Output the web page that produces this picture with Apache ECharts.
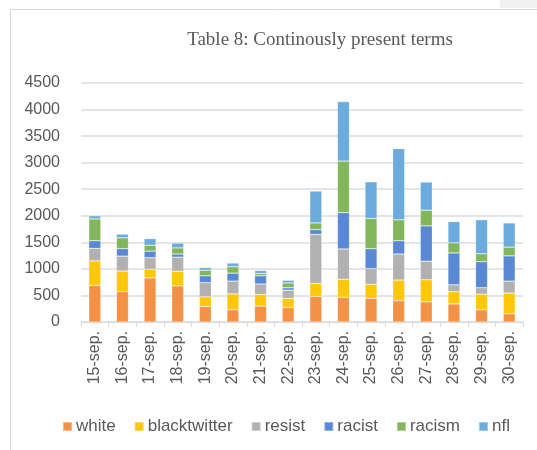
<!DOCTYPE html>
<html>
<head>
<meta charset="utf-8">
<script src="https://cdn.jsdelivr.net/npm/echarts@6/dist/echarts.min.js"></script>
<style>
  html, body { margin: 0; padding: 0; background: #ffffff; }
  #chart { width: 537px; height: 450px; }
</style>
</head>
<body>
<div id="chart"></div>
<script>
// Daily counts of terms present throughout the period
const days = ['15-sep.', '16-sep.', '17-sep.', '18-sep.', '19-sep.', '20-sep.', '21-sep.', '22-sep.',
              '23-sep.', '24-sep.', '25-sep.', '26-sep.', '27-sep.', '28-sep.', '29-sep.', '30-sep.'];
const white        = [690, 570, 830, 680, 290, 230, 300, 270, 480, 465, 445, 400, 380, 340, 230, 155];
const blacktwitter = [460, 390, 165, 275, 185, 300, 220, 175, 245, 340, 265, 390, 415, 230, 295, 390];
const resist       = [235, 280, 215, 265, 265, 240, 195, 155, 925, 570, 295, 490, 350, 130, 120, 225];
const racist       = [145, 140, 125,  60, 130, 150, 155,  45,  90, 685, 375, 250, 665, 600, 490, 475];
const racism       = [410, 205, 110, 115, 105, 120,  45,  90, 125, 970, 570, 395, 295, 190, 150, 165];
const nfl          = [ 60,  70, 125,  90,  50,  70,  55,  50, 600, 1120, 690, 1340, 530, 400, 640, 455];
const yTicks = [0, 500, 1000, 1500, 2000, 2500, 3000, 3500, 4000, 4500];

const seriesDefs = [
  ['white', white, '#F39247'],
  ['blacktwitter', blacktwitter, '#FFC70A'],
  ['resist', resist, '#B1B1B1'],
  ['racist', racist, '#5989D5'],
  ['racism', racism, '#82B65A'],
  ['nfl', nfl, '#6BABDD']
];

const chart = echarts.init(document.getElementById('chart'), null, { renderer: 'canvas' });
const textColor = '#595959';

chart.setOption({
  animation: false,
  backgroundColor: '#ffffff',
  color: seriesDefs.map(d => d[2]),
  graphic: [
    { type: 'rect', shape: { x: 500, y: 0, width: 37, height: 8 }, style: { fill: '#F0F0F0' }, silent: true },
    { type: 'rect', shape: { x: 10.5, y: 9.5, width: 600, height: 500 }, style: { fill: 'none', stroke: '#D9D9D9', lineWidth: 1 }, silent: true }
  ],
  title: {
    text: 'Table 8: Continously present terms',
    left: 315,
    textAlign: 'center',
    top: 26,
    textStyle: { fontFamily: 'Liberation Serif', fontSize: 19, fontWeight: 'normal', color: textColor }
  },
  legend: {
    left: 57,
    top: 413,
    itemWidth: 9,
    itemHeight: 9,
    itemGap: 18,
    icon: 'rect',
    textStyle: { fontFamily: 'Liberation Sans', fontSize: 17, color: textColor, padding: [0, 0, 0, -1] },
    data: seriesDefs.map(d => d[0])
  },
  grid: { left: 81, right: 14, top: 83, bottom: 128, containLabel: false },
  xAxis: {
    type: 'category',
    data: days,
    axisLine: { lineStyle: { color: '#D9D9D9', width: 1 } },
    axisTick: { show: true, length: 5, lineStyle: { color: '#D9D9D9' } },
    axisLabel: { rotate: 90, margin: 9, fontFamily: 'Liberation Sans', fontSize: 16, color: textColor }
  },
  yAxis: {
    type: 'value',
    min: yTicks[0],
    max: yTicks[yTicks.length - 1],
    interval: 500,
    axisLine: { show: false },
    axisTick: { show: false },
    splitLine: { lineStyle: { color: '#DCDCDC', width: 1.5 } },
    axisLabel: { margin: 21, fontFamily: 'Liberation Sans', fontSize: 16, color: textColor, formatter: v => String(v) }
  },
  series: seriesDefs.map(([name, values]) => ({
    name,
    type: 'bar',
    stack: 'terms',
    data: values,
    barWidth: 12,
    itemStyle: { borderColor: 'rgba(255,255,255,0.35)', borderWidth: 0.6 }
  }))
});
</script>
</body>
</html>
